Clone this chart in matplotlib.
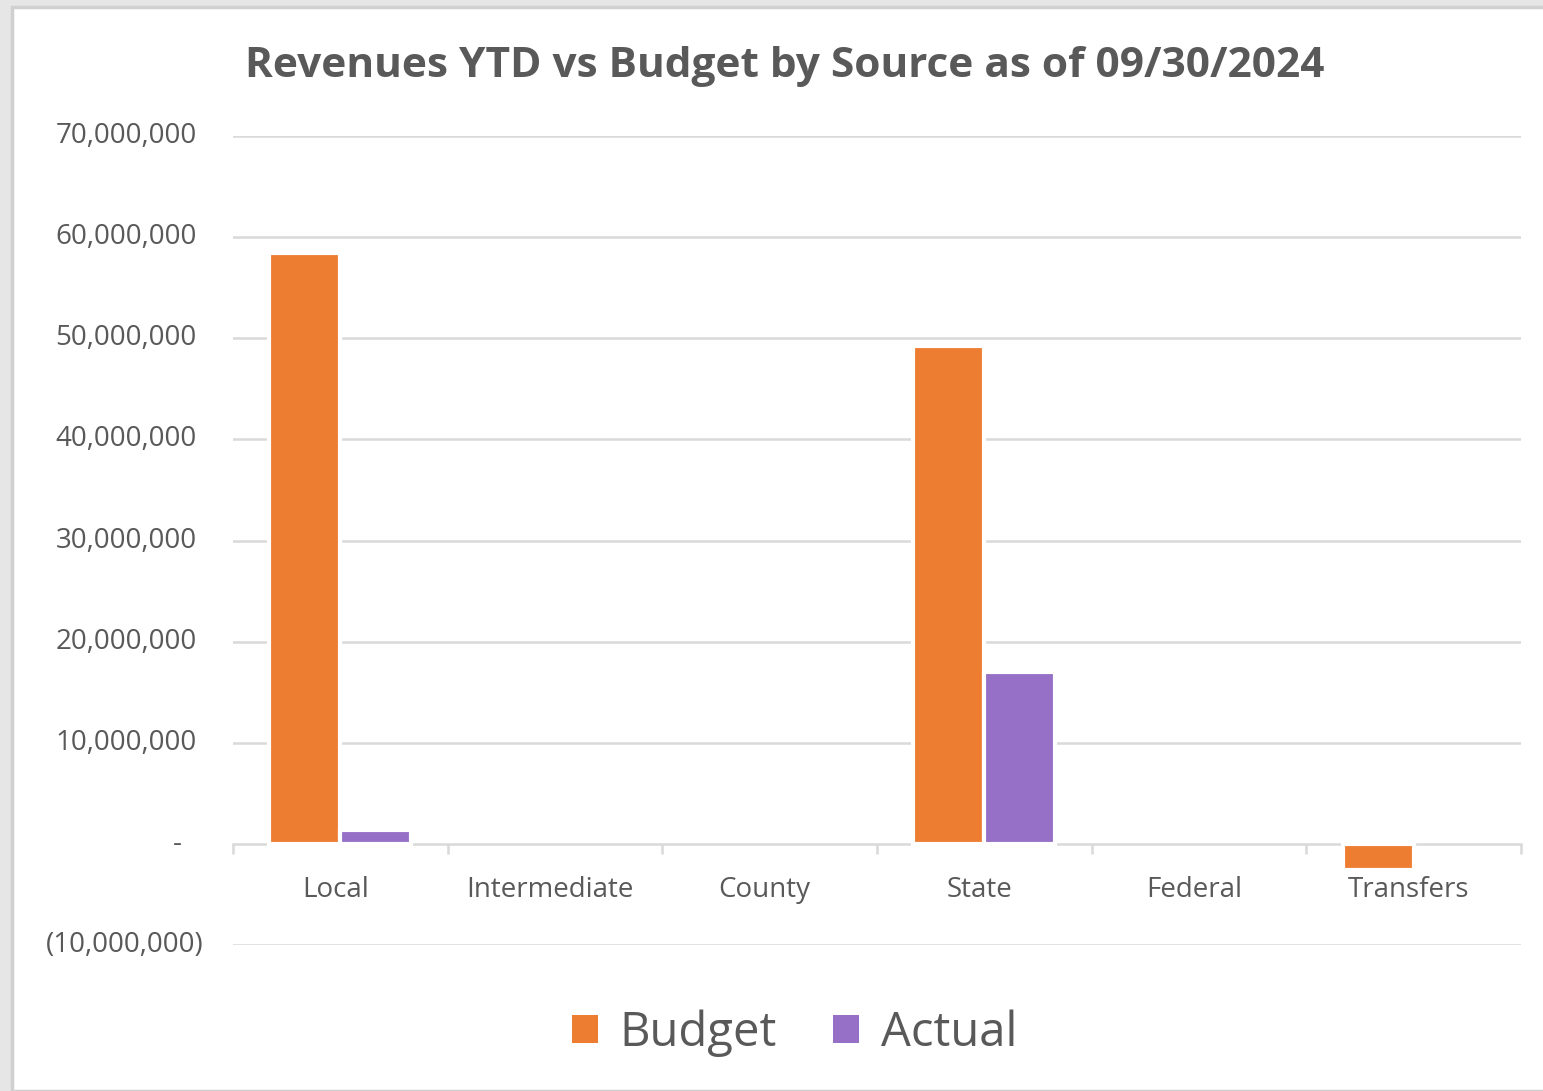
import numpy as np
import matplotlib
matplotlib.use("Agg")
import matplotlib.pyplot as plt
from matplotlib.patches import Rectangle, Patch
from matplotlib.transforms import ScaledTranslation

plt.rcParams['font.family'] = ['Open Sans', 'DejaVu Sans']

categories = ["Local", "Intermediate", "County", "State", "Federal", "Transfers"]
budget = [58400000, 0, 0, 49200000, 0, -2550000]
actual = [1400000, 0, 0, 17000000, 0, 0]
yticks = [-10000000, 0, 10000000, 20000000, 30000000, 40000000, 50000000, 60000000, 70000000]

orange = "#ED7D31"
purple = "#9570C6"
txt = "#595959"
grid = "#D9D9D9"

fig = plt.figure(figsize=(15.43, 10.91), dpi=100)
fig.patch.set_facecolor("#E6E6E6")
# white chart area with thin border, like the screenshot
fig.patches.append(Rectangle((12 / 1543, 0), 1, 1 - 7 / 1091, transform=fig.transFigure,
                             facecolor="white", edgecolor="#D0D0D0", linewidth=2.5, zorder=-10))

ax = fig.add_axes([233 / 1543, 1 - 945 / 1091, 1288 / 1543, (945 - 136) / 1091])
ax.set_facecolor("none")

x = np.arange(len(categories))
w = 0.33
# no white edge on empty bars, otherwise they cut the zero line
ax.bar(x - 0.165, budget, w, color=orange, edgecolor="white",
       linewidth=[3 if v else 0 for v in budget], zorder=3, label="Budget")
ax.bar(x + 0.165, actual, w, color=purple, edgecolor="white",
       linewidth=[3 if v else 0 for v in actual], zorder=3, label="Actual")

ax.set_xlim(-0.5, len(categories) - 0.5)
ax.set_ylim(-10000000, 70000000)

# gridlines (zero line is the category axis)
for v in yticks:
    if v != 0:
        ax.axhline(v, color=grid, linewidth=1.8, zorder=1)

for s in ["top", "right", "left"]:
    ax.spines[s].set_visible(False)
ax.spines["bottom"].set_position(("data", 0))
ax.spines["bottom"].set_color(grid)
ax.spines["bottom"].set_linewidth(1.8)
ax.spines["bottom"].set_zorder(2)

ax.set_xticks(x)
ax.set_xticklabels(categories, fontsize=20, color=txt)
ax.tick_params(axis="x", which="major", length=0, pad=23)
ax.set_xticks(np.arange(len(categories) + 1) - 0.5, minor=True)
ax.tick_params(axis="x", which="minor", length=7, width=1.8, color=grid, direction="out")
shift = ScaledTranslation(-5 / 100, 0, fig.dpi_scale_trans)
for lab in ax.get_xticklabels():
    lab.set_transform(lab.get_transform() + shift)

ax.set_yticks([])
ytr = ax.get_yaxis_transform()
for v in yticks:
    if v > 0:
        ax.text(-0.028, v, f"{v:,}", transform=ytr, ha="right", va="center", fontsize=20, color=txt)
    elif v == 0:
        ax.text(-0.040, v, "-", transform=ytr, ha="right", va="center", fontsize=20, color=txt)
    else:
        ax.text(-0.023, v, f"({-v:,})", transform=ytr, ha="right", va="center", fontsize=20, color=txt)

fig.text(0.5084, 0.939, "Revenues YTD vs Budget by Source as of 09/30/2024", ha="center", va="center",
         fontsize=30.5, fontweight="bold", color=txt)

handles = [Patch(facecolor=orange, label="Budget"), Patch(facecolor=purple, label="Actual")]
fig.legend(handles=handles, loc="center", bbox_to_anchor=(0.515, 0.053), ncol=2, frameon=False,
           fontsize=34, labelcolor=txt, handlelength=0.55, handleheight=0.55,
           handletextpad=0.45, columnspacing=1.2)

fig.savefig("out.png", dpi=100, facecolor=fig.get_facecolor())
